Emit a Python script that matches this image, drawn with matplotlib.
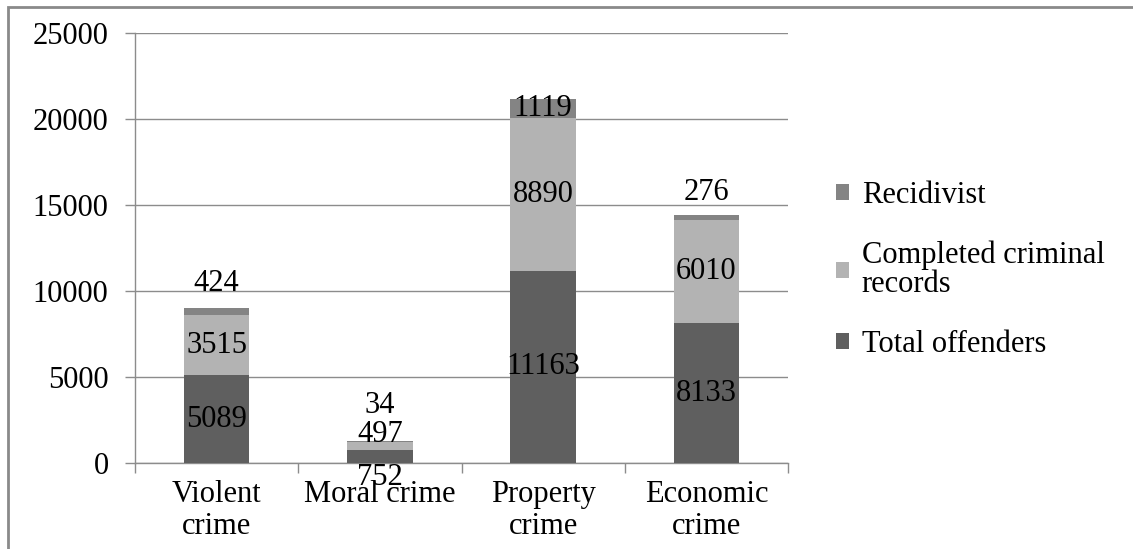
import matplotlib
matplotlib.use("Agg")
import matplotlib.pyplot as plt
from matplotlib.patches import Rectangle
import numpy as np

# Offenders by crime type, stacked by record status
categories = ["Violent\ncrime", "Moral crime", "Property\ncrime", "Economic\ncrime"]
total_offenders = [5089, 752, 11163, 8133]
completed_records = [3515, 497, 8890, 6010]
recidivist = [424, 34, 1119, 276]

series_names = ["Total offenders", "Completed criminal\nrecords", "Recidivist"]
series_values = [total_offenders, completed_records, recidivist]
series_colors = ["#5f5f5f", "#b3b3b3", "#848484"]

# vertical nudges (points) for values on segments too thin to hold them
label_nudge = {(0, 2): 20, (1, 0): -15, (1, 1): 8, (1, 2): 26, (3, 2): 18}

plt.rcParams["font.family"] = ["Liberation Serif", "DejaVu Serif"]
FS = 22
GRID = "#8c8c8c"

W, H = 1133, 549
fig = plt.figure(figsize=(W / 100, H / 100), dpi=100)
ax = fig.add_axes([135 / W, 1 - 463 / H, (788 - 135) / W, (463 - 33) / H])

x = np.arange(len(categories))
bottom = np.zeros(len(categories))
handles = []
for i, (vals, name, color) in enumerate(zip(series_values, series_names, series_colors)):
    vals = np.asarray(vals, dtype=float)
    bars = ax.bar(x, vals, 0.4, bottom=bottom, color=color, label=name, zorder=3)
    handles.append(bars)
    for j, v in enumerate(vals):
        ax.annotate(f"{int(v)}", (x[j], bottom[j] + v / 2),
                    xytext=(0, label_nudge.get((j, i), 0)), textcoords="offset points",
                    ha="center", va="center", fontsize=FS, color="black", zorder=5)
    bottom += vals

ax.set_ylim(0, 25000)
ax.set_yticks(np.arange(0, 25001, 5000))
ax.set_xlim(-0.5, len(categories) - 0.5)

ax.set_axisbelow(True)
ax.yaxis.grid(True, color=GRID, lw=1.0)
for side in ("top", "right"):
    ax.spines[side].set_visible(False)
for side in ("left", "bottom"):
    ax.spines[side].set_color(GRID)
    ax.spines[side].set_linewidth(1.0)

# category boundaries carry the tick marks, centres carry the names
ax.set_xticks(np.arange(-0.5, len(categories), 1.0))
ax.set_xticklabels([])
ax.set_xticks(x, minor=True)
ax.set_xticklabels(categories, minor=True, fontsize=FS, linespacing=1.17)
ax.tick_params(axis="x", which="major", length=7, color=GRID, width=1.0)
ax.tick_params(axis="x", which="minor", length=0, pad=12)
ax.tick_params(axis="y", length=7, color=GRID, width=1.0, pad=12, labelsize=FS)

leg = fig.legend(handles[::-1], series_names[::-1], loc="upper left",
                 bbox_to_anchor=(836 / W, 1 - 181 / H), frameon=False,
                 fontsize=FS, handlelength=0.42, handleheight=0.42,
                 handletextpad=0.42, labelspacing=1.0, borderpad=0,
                 borderaxespad=0)
for t in leg.get_texts():
    t.set_linespacing(1.0)

# outer chart frame
fig.patches.append(Rectangle((8 / W, -0.1), 1.2, 1.1 - 7 / H, transform=fig.transFigure,
                             fill=False, ec="#8a8a8a", lw=2, clip_on=False))

fig.savefig("out.png", dpi=100)
